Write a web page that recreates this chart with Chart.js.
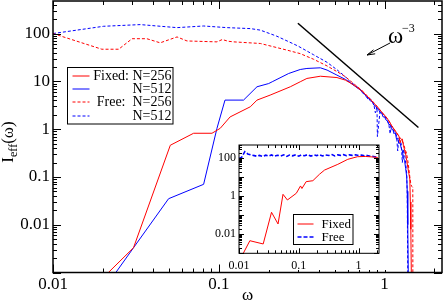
<!DOCTYPE html>
<html>
<head>
<meta charset="utf-8">
<script src="https://cdn.jsdelivr.net/npm/chart.js@4.4.1/dist/chart.umd.min.js"></script>
<style>
  html, body { margin: 0; padding: 0; background: #fff; }
  #wrap { position: relative; width: 443px; height: 302px; }
  #main { position: absolute; left: 0; top: 0; }
  #inset { position: absolute; left: 200px; top: 137px; }
</style>
</head>
<body>
<div id="wrap">
  <canvas id="main" width="443" height="302"></canvas>
  <canvas id="inset" width="187" height="133"></canvas>
</div>
<script>
// ---- main panel: I_eff(omega), fixed and free boundaries ----
const fixed256W = [0.02, 0.0306, 0.051, 0.0705, 0.091, 0.102, 0.117, 0.155, 0.17, 0.204, 0.27, 0.31, 0.34, 0.41, 0.516,
  0.58, 0.62, 0.66, 0.70, 0.74, 0.78, 0.82, 0.86, 0.90, 0.94, 0.98, 1.02, 1.06, 1.10, 1.14, 1.18, 1.22, 1.24, 1.26, 1.28,
  1.30, 1.33, 1.34, 1.36, 1.38, 1.40, 1.42, 1.43, 1.44, 1.45];
const fixed256I = [0.00077, 0.0033, 0.46, 0.82, 0.82, 1.04, 1.8, 2.94, 4.05, 5.15, 7.7, 9.8, 11.5, 12.8, 12.0,
  10.6, 9.3, 8.1, 7.0, 6.0, 5.0, 4.2, 3.5, 3.0, 2.5, 2.1, 1.8, 1.5, 1.2, 1.0, 0.85, 0.72, 0.52, 0.6, 0.62,
  0.45, 0.33, 0.3, 0.22, 0.16, 0.12, 0.09, 0.03, 0.008, 0.0009];

const fixed512W = [0.0225, 0.0306, 0.0498, 0.081, 0.0975, 0.109, 0.141, 0.17, 0.2, 0.21, 0.264, 0.31, 0.34, 0.41, 0.45, 0.516,
  0.58, 0.62, 0.66, 0.70, 0.72, 0.74, 0.76, 0.78, 0.80, 0.82, 0.84, 0.86, 0.88, 0.90, 0.92, 0.94, 0.96, 0.98, 1.0,
  1.02, 1.04, 1.06, 1.08, 1.10, 1.12, 1.14, 1.16, 1.18, 1.2, 1.22, 1.24, 1.26, 1.28, 1.30, 1.32, 1.34, 1.36, 1.37, 1.38, 1.39];
const fixed512I = [0.00074, 0.0033, 0.035, 0.07, 1.04, 4.05, 4.05, 7.7, 9.0, 9.8, 14.6, 17.7, 18.6, 19.2, 17.2, 13.5,
  11.0, 9.4, 8.0, 6.9, 6.5, 5.6, 5.4, 4.6, 4.5, 3.9, 3.8, 3.2, 3.1, 2.7, 2.6, 2.2, 2.2, 1.8, 1.8,
  1.55, 1.5, 1.25, 1.25, 1.0, 1.0, 0.8, 0.85, 0.62, 0.65, 0.5, 0.52, 0.4, 0.35, 0.25, 0.22, 0.15, 0.1, 0.05, 0.01, 0.0009];

const free256W = [0.01, 0.0197, 0.0249, 0.03, 0.0368, 0.0443, 0.056, 0.0643, 0.0975, 0.105, 0.114, 0.123, 0.178, 0.258, 0.31,
  0.373, 0.45, 0.516, 0.58, 0.62, 0.66, 0.70, 0.74, 0.78, 0.82, 0.86, 0.9, 0.94, 0.98, 1.02, 1.06, 1.1, 1.14, 1.18, 1.22,
  1.26, 1.3, 1.33, 1.36, 1.38, 1.4, 1.42, 1.44, 1.46, 1.48, 1.481];
const free256I = [100, 47, 47, 78, 78, 64, 85, 70, 67, 75, 69, 67, 62, 45, 38,
  29, 21, 16, 12.5, 10.3, 8.6, 7.3, 6.2, 5.1, 4.3, 3.6, 3.0, 2.5, 2.1, 1.8, 1.5, 1.2, 1.0, 0.82, 0.7,
  0.62, 0.5, 0.38, 0.3, 0.22, 0.15, 0.1, 0.07, 0.063, 0.06, 0.0009];

const free512W = [0.01, 0.0202, 0.0336, 0.056, 0.081, 0.112, 0.155, 0.178, 0.224, 0.3, 0.373, 0.45, 0.516,
  0.58, 0.62, 0.66, 0.70, 0.74, 0.78, 0.80, 0.82, 0.86, 0.88, 0.9, 0.905, 0.92, 0.94, 0.98, 1.02, 1.06, 1.08, 1.1,
  1.14, 1.18, 1.2, 1.22, 1.26, 1.28, 1.3, 1.33, 1.36, 1.37, 1.38];
const free512I = [100, 142, 154, 133, 144, 133, 127, 118, 88, 55, 36, 25, 17.5,
  12.5, 9.8, 8.4, 7.2, 6.0, 4.9, 4.0, 4.3, 3.4, 2.2, 2.9, 0.7, 1.2, 2.4, 2.0, 1.7, 1.3, 0.8, 1.15,
  0.9, 0.75, 0.35, 0.65, 0.5, 0.2, 0.38, 0.25, 0.12, 0.04, 0.0009];

// reference slope omega^-3
const slopeW = [0.3, 1.6];
const slopeI = [164, 1.08];

const seriesLabels = ['Fixed: N=256', 'N=512', 'Free:  N=256', 'N=512'];
const xTickLabels = [0.01, 0.1, 1];
const yTickLabels = [0.01, 0.1, 1, 10, 100];

// ---- inset ----
const insetFixedW = [0.0105, 0.0118, 0.0152, 0.0254, 0.035, 0.045, 0.0545, 0.0645, 0.091, 0.107, 0.113, 0.133, 0.172,
  0.222, 0.27, 0.45, 0.66, 0.96, 1.3, 1.7, 2.1];
const insetFixedI = [0.0004, 0.001, 0.0046, 0.0031, 0.144, 0.035, 1.27, 0.64, 1.44, 3.5, 2.57, 5.9, 6.6,
  14.4, 24, 48, 88, 121, 125, 118, 110];
const insetFreeW = [0.01, 0.011, 0.0125, 0.014, 0.016, 0.018, 0.02, 0.022, 0.025, 0.028, 0.031, 0.035, 0.039, 0.044,
  0.05, 0.056, 0.063, 0.07, 0.079, 0.089, 0.1, 0.11, 0.125, 0.14, 0.16, 0.18, 0.2, 0.22, 0.25, 0.28, 0.32, 0.36,
  0.4, 0.45, 0.5, 0.56, 0.63, 0.7, 0.79, 0.89, 1.0, 1.12, 1.26, 1.41, 1.58, 1.78, 2.0, 2.1];
const insetFreeI = [100, 110, 225, 170, 150, 138, 128, 142, 124, 146, 131, 150, 127, 144,
  133, 152, 126, 147, 135, 153, 129, 148, 136, 155, 131, 149, 138, 157, 132, 150, 140, 156,
  134, 151, 142, 155, 137, 150, 143, 152, 139, 146, 134, 140, 128, 124, 115, 108];
const insetLabels = ['Fixed', 'Free'];
const insetXTickLabels = [0.01, 0.1, 1];
const insetYTickLabels = [0.01, 1, 100];

const SERIF = '"Liberation Serif", "Times New Roman", serif';

function pts(w, v) {
  return w.map((x, i) => ({ x: x, y: v[i] }));
}

// all 1..9 x 10^e positions inside the range (tick marks only)
function logTicks(min, max) {
  const out = [];
  for (let e = -4; e <= 4; e++) {
    for (let m = 1; m <= 9; m++) {
      const v = m * Math.pow(10, e);
      if (v >= min * 0.999 && v <= max * 1.001) out.push({ v: v, major: m === 1 });
    }
  }
  return out;
}

// frame with inward ticks on all four sides
const axisFrame = {
  id: 'axisFrame',
  afterDatasetsDraw(chart, args, opts) {
    const { ctx, chartArea: a, scales: { x, y } } = chart;
    ctx.save();
    ctx.strokeStyle = '#000';
    ctx.lineWidth = 1;
    ctx.beginPath();
    logTicks(x.min, x.max).forEach(t => {
      const px = Math.round(x.getPixelForValue(t.v)) + 0.5;
      const len = t.major ? opts.major : opts.minor;
      ctx.moveTo(px, a.bottom); ctx.lineTo(px, a.bottom - len);
      ctx.moveTo(px, a.top); ctx.lineTo(px, a.top + len);
    });
    logTicks(y.min, y.max).forEach(t => {
      const py = Math.round(y.getPixelForValue(t.v)) + 0.5;
      const len = t.major ? opts.major : opts.minor;
      ctx.moveTo(a.left, py); ctx.lineTo(a.left + len, py);
      ctx.moveTo(a.right, py); ctx.lineTo(a.right - len, py);
    });
    ctx.stroke();
    ctx.lineWidth = opts.frame;
    ctx.strokeRect(a.left, a.top, a.right - a.left, a.bottom - a.top);
    ctx.restore();
  }
};

function drawSample(ctx, ds, x0, x1, y) {
  ctx.save();
  ctx.strokeStyle = ds.borderColor;
  ctx.lineWidth = ds.borderWidth;
  ctx.setLineDash(ds.borderDash || []);
  ctx.beginPath();
  ctx.moveTo(x0, y); ctx.lineTo(x1, y);
  ctx.stroke();
  ctx.restore();
}

// legend box, titles and the omega^-3 note of the main panel
const mainDecor = {
  id: 'mainDecor',
  afterDraw(chart) {
    const ctx = chart.ctx;
    const ds = chart.data.datasets;
    ctx.save();
    // legend
    ctx.fillStyle = '#fff';
    ctx.fillRect(68, 68, 105, 56);
    ctx.strokeStyle = '#000';
    ctx.lineWidth = 1;
    ctx.strokeRect(67.5, 67.5, 105.5, 56.5);
    ctx.font = '14px ' + SERIF;
    ctx.textAlign = 'right';
    ctx.textBaseline = 'middle';
    ctx.fillStyle = '#000';
    const rows = [76, 89.3, 102.3, 115.7];
    for (let i = 0; i < 4; i++) {
      drawSample(ctx, ds[i], 72.5, 89.5, Math.round(rows[i]));
      ctx.fillText(ds[i].label, 171.5, rows[i] + 0.5);
    }
    // y title I_eff(omega)
    ctx.translate(13, 142);
    ctx.rotate(-Math.PI / 2);
    ctx.textAlign = 'left';
    ctx.textBaseline = 'alphabetic';
    ctx.font = '17px ' + SERIF;
    const wI = ctx.measureText('I').width;
    ctx.font = '12px ' + SERIF;
    const wSub = ctx.measureText('eff').width;
    ctx.font = '17px ' + SERIF;
    const wPar = ctx.measureText('(ω)').width;
    let sx = -(wI + wSub + wPar) / 2;
    ctx.fillText('I', sx, 0);
    sx += wI;
    ctx.font = '12px ' + SERIF;
    ctx.fillText('eff', sx, 4);
    sx += wSub;
    ctx.font = '17px ' + SERIF;
    ctx.fillText('(ω)', sx, 0);
    ctx.setTransform(1, 0, 0, 1, 0, 0);
    // x title
    ctx.textAlign = 'center';
    ctx.fillText('ω', 247.5, 300);
    // omega^-3 note with arrow
    ctx.textAlign = 'left';
    ctx.font = '23px ' + SERIF;
    ctx.fillText('ω', 388, 43);
    ctx.font = '12px ' + SERIF;
    ctx.fillText('−3', 402, 32);
    ctx.beginPath();
    ctx.moveTo(390, 43); ctx.lineTo(367, 55);
    ctx.moveTo(367, 55); ctx.lineTo(373.5, 49.8);
    ctx.moveTo(367, 55); ctx.lineTo(375.2, 53.8);
    ctx.stroke();
    ctx.restore();
  }
};

const insetDecor = {
  id: 'insetDecor',
  beforeDraw(chart) {
    // white panel behind the inset, starting just left of its tick labels
    const ctx = chart.ctx;
    ctx.save();
    ctx.fillStyle = '#fff';
    ctx.fillRect(20, 0, chart.width - 20, chart.height);
    ctx.restore();
  },
  afterDraw(chart) {
    const ctx = chart.ctx;
    const ds = chart.data.datasets;
    const ox = 93, oy = 77;
    ctx.save();
    ctx.fillStyle = '#fff';
    ctx.fillRect(ox, oy, 60, 30);
    ctx.strokeStyle = '#000';
    ctx.lineWidth = 1;
    ctx.strokeRect(ox + 0.5, oy + 0.5, 59.5, 30);
    ctx.font = '13px ' + SERIF;
    ctx.textBaseline = 'middle';
    ctx.fillStyle = '#000';
    const rows = [10, 23.3];
    for (let i = 0; i < 2; i++) {
      drawSample(ctx, ds[i], ox + 4.5, ox + 20.5, oy + Math.round(rows[i]));
      ctx.fillText(ds[i].label, ox + 28.5, oy + rows[i] + 0.5);
    }
    ctx.restore();
  }
};

function logScale(min, max, labels, font, pad, fit) {
  return {
    type: 'logarithmic',
    min: min,
    max: max,
    grid: { display: false, drawTicks: false, tickLength: 0 },
    border: { display: false },
    ticks: {
      font: { family: SERIF, size: font },
      color: '#000',
      padding: pad,
      maxRotation: 0,
      autoSkip: false,
      callback: v => String(v)
    },
    afterBuildTicks: s => { s.ticks = labels.map(v => ({ value: v })); },
    afterFit: fit
  };
}

const line = (label, w, v, color, dash, width) => ({
  label: label,
  data: pts(w, v),
  borderColor: color,
  borderWidth: width,
  borderDash: dash,
  showLine: true,
  pointRadius: 0,
  tension: 0
});

Chart.defaults.animation = false;

new Chart(document.getElementById('main'), {
  type: 'scatter',
  data: {
    datasets: [
      line(seriesLabels[0], fixed256W, fixed256I, '#ff0000', [], 1),
      line(seriesLabels[1], fixed512W, fixed512I, '#0000ff', [], 1),
      line(seriesLabels[2], free256W, free256I, '#ff0000', [3, 2], 1),
      line(seriesLabels[3], free512W, free512I, '#0000ff', [3, 2], 1),
      line('slope', slopeW, slopeI, '#000000', [], 1.5)
    ]
  },
  options: {
    responsive: false,
    devicePixelRatio: 1,
    layout: { padding: { top: 1, right: 1, left: 0, bottom: 0 } },
    plugins: {
      legend: { display: false },
      tooltip: { enabled: false },
      axisFrame: { major: 8, minor: 4, frame: 1.5 }
    },
    scales: {
      x: logScale(0.01, 2.22, xTickLabels, 17, 2, s => { s.height = 29.5; }),
      y: logScale(0.001, 480, yTickLabels, 17, 3, s => { s.width = 53; s.paddingTop = 0; s.paddingBottom = 0; })
    }
  },
  plugins: [axisFrame, mainDecor]
});

new Chart(document.getElementById('inset'), {
  type: 'scatter',
  data: {
    datasets: [
      line(insetLabels[0], insetFixedW, insetFixedI, '#ff0000', [], 1),
      line(insetLabels[1], insetFreeW, insetFreeI, '#0000ff', [4, 2], 1.6)
    ]
  },
  options: {
    responsive: false,
    devicePixelRatio: 1,
    layout: { padding: { top: 8, right: 8, left: 0, bottom: 0 } },
    plugins: {
      legend: { display: false },
      tooltip: { enabled: false },
      axisFrame: { major: 5, minor: 3, frame: 1 }
    },
    scales: {
      x: logScale(0.01, 2.2, insetXTickLabels, 12, 5, s => { s.height = 16.7; }),
      y: logScale(0.001, 500, insetYTickLabels, 12, 3, s => { s.width = 39; s.paddingTop = 0; s.paddingBottom = 0; })
    }
  },
  plugins: [axisFrame, insetDecor]
});
</script>
</body>
</html>
